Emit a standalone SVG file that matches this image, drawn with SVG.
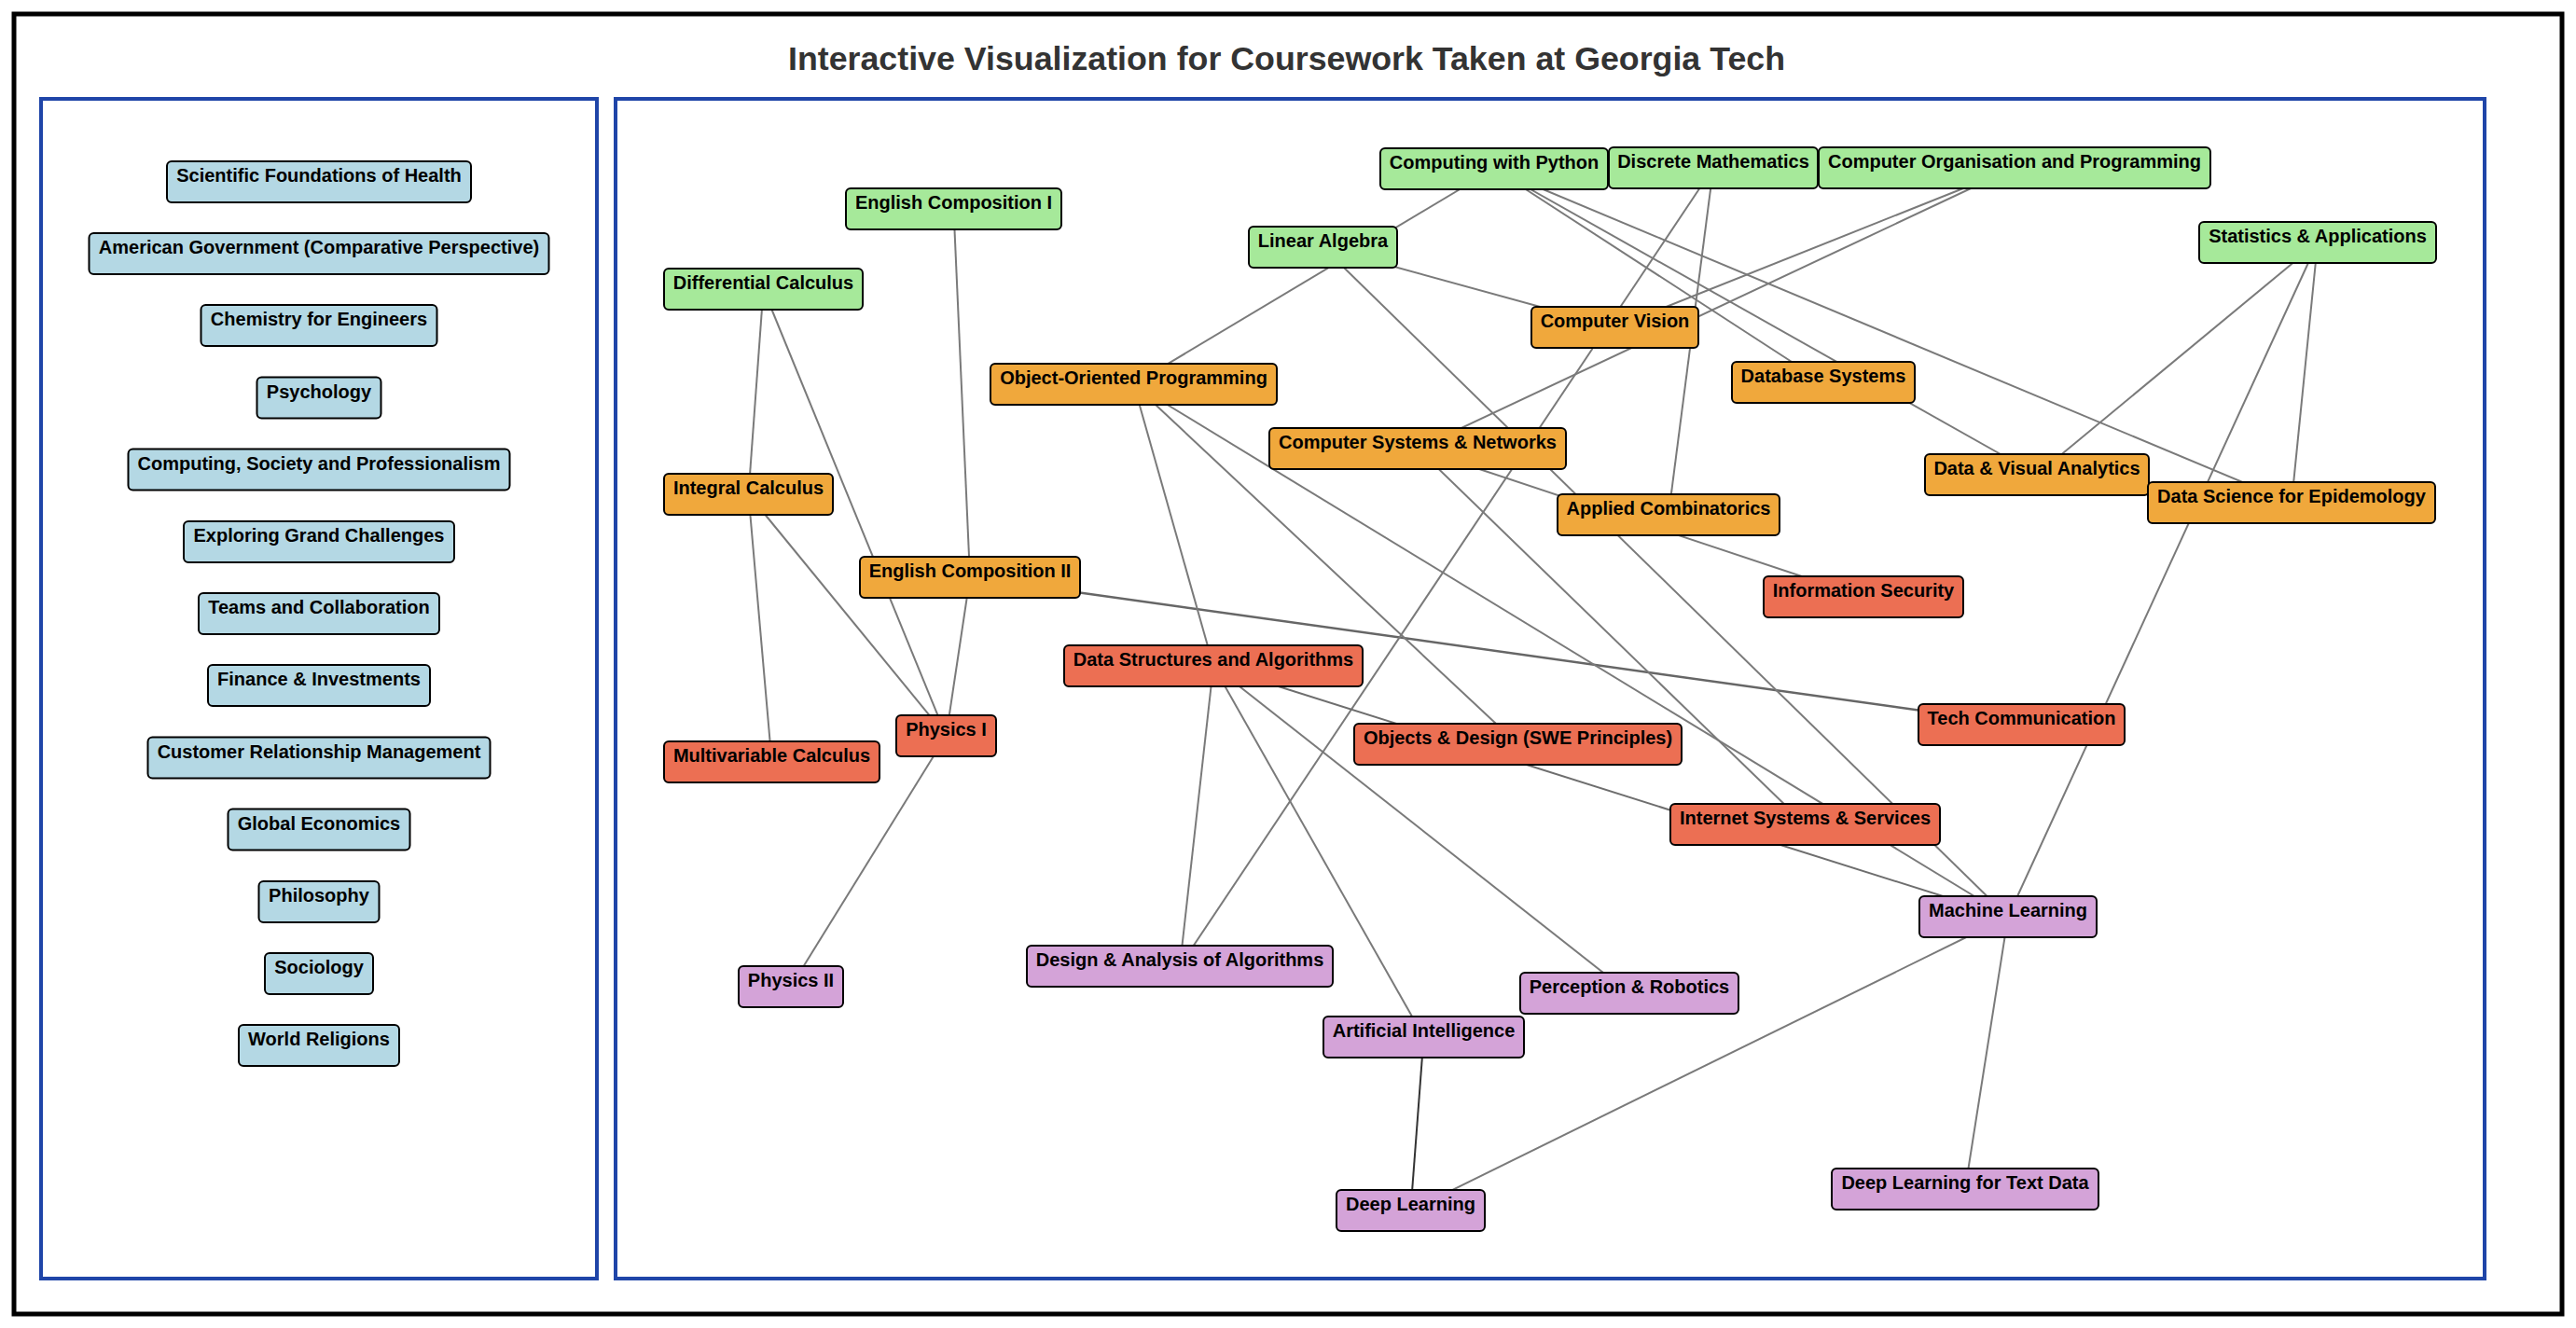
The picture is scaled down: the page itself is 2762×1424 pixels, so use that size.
<svg xmlns="http://www.w3.org/2000/svg" width="2762" height="1424" viewBox="0 0 2762 1424">
<style>
.n rect{stroke:#000;stroke-width:2;rx:5;ry:5}
.n text{font-family:"Liberation Sans",Arial,sans-serif;font-weight:bold;font-size:20px;fill:#000;text-anchor:middle}
.b rect{fill:#b4d8e4}
.g rect{fill:#a6e99a}
.o rect{fill:#f0a83c}
.r rect{fill:#ec6f53}
.p rect{fill:#d4a3d8}
#edges line{stroke:#7a7a7a;stroke-width:2}
.panel{fill:none;stroke:#1f45a8;stroke-width:4}
</style>
<rect width="2762" height="1424" fill="#fff"/>
<rect x="15" y="15" width="2732" height="1394" fill="none" stroke="#000" stroke-width="5"/>
<text x="1379.5" y="75" font-family="Liberation Sans,Arial,sans-serif" font-weight="bold" font-size="35" fill="#333" text-anchor="middle" textLength="1069" lengthAdjust="spacingAndGlyphs">Interactive Visualization for Coursework Taken at Georgia Tech</text>
<rect class="panel" x="44" y="106" width="596" height="1265"/>
<rect class="panel" x="660" y="106" width="2004" height="1265"/>

<g id="left-nodes">
<g id="n-sfh" class="n b"><rect x="179" y="173" width="326" height="44"/><text x="342" y="195">Scientific Foundations of Health</text></g>
<g id="n-ag" class="n b"><rect x="95.5" y="250" width="493" height="44"/><text x="342" y="272">American Government (Comparative Perspective)</text></g>
<g id="n-chem" class="n b"><rect x="215.5" y="327" width="253" height="44"/><text x="342" y="349">Chemistry for Engineers</text></g>
<g id="n-psy" class="n b"><rect x="275.5" y="404.5" width="133" height="44"/><text x="342" y="426.5">Psychology</text></g>
<g id="n-csp" class="n b"><rect x="137.5" y="481.5" width="409" height="44"/><text x="342" y="503.5">Computing, Society and Professionalism</text></g>
<g id="n-egc" class="n b"><rect x="197" y="559" width="290" height="44"/><text x="342" y="581">Exploring Grand Challenges</text></g>
<g id="n-tc2" class="n b"><rect x="213" y="636" width="258" height="44"/><text x="342" y="658">Teams and Collaboration</text></g>
<g id="n-fi" class="n b"><rect x="223" y="713" width="238" height="44"/><text x="342" y="735">Finance &amp; Investments</text></g>
<g id="n-crm" class="n b"><rect x="158.5" y="790.5" width="367" height="44"/><text x="342" y="812.5">Customer Relationship Management</text></g>
<g id="n-ge" class="n b"><rect x="244.5" y="867.5" width="195" height="44"/><text x="342" y="889.5">Global Economics</text></g>
<g id="n-phil" class="n b"><rect x="277.5" y="945" width="129" height="44"/><text x="342" y="967">Philosophy</text></g>
<g id="n-soc" class="n b"><rect x="284" y="1022" width="116" height="44"/><text x="342" y="1044">Sociology</text></g>
<g id="n-wr" class="n b"><rect x="256" y="1099" width="172" height="44"/><text x="342" y="1121">World Religions</text></g>
</g>

<g id="edges">
<line x1="818.5" y1="310" x2="802.5" y2="530"/>
<line x1="818.5" y1="310" x2="1014.5" y2="789"/>
<line x1="1022.5" y1="224" x2="1040" y2="619"/>
<line x1="802.5" y1="530" x2="827.5" y2="817"/>
<line x1="802.5" y1="530" x2="1014.5" y2="789"/>
<line x1="1040" y1="619" x2="1014.5" y2="789"/>
<line x1="1014.5" y1="789" x2="848" y2="1058"/>
<line x1="1040" y1="619" x2="2167.5" y2="777" style="stroke:#666;stroke-width:2.5"/>
<line x1="1602" y1="181" x2="1215.5" y2="412"/>
<line x1="1602" y1="181" x2="1955" y2="410"/>
<line x1="1602" y1="181" x2="2184" y2="509"/>
<line x1="1602" y1="181" x2="2457" y2="539"/>
<line x1="1418.5" y1="265" x2="1731.5" y2="351"/>
<line x1="1418.5" y1="265" x2="2153" y2="983"/>
<line x1="1837" y1="180" x2="1265" y2="1036"/>
<line x1="1837" y1="180" x2="1789" y2="552"/>
<line x1="2160" y1="180" x2="1731.5" y2="351"/>
<line x1="2160" y1="180" x2="1520" y2="481"/>
<line x1="1215.5" y1="412" x2="1301" y2="714"/>
<line x1="1215.5" y1="412" x2="1627.5" y2="798"/>
<line x1="1215.5" y1="412" x2="2153" y2="983"/>
<line x1="1520" y1="481" x2="1935.5" y2="884"/>
<line x1="1520" y1="481" x2="1998" y2="640"/>
<line x1="2485" y1="260" x2="2184" y2="509"/>
<line x1="2485" y1="260" x2="2457" y2="539"/>
<line x1="2485" y1="260" x2="2153" y2="983"/>
<line x1="1301" y1="714" x2="1265" y2="1036"/>
<line x1="1301" y1="714" x2="1526.5" y2="1112"/>
<line x1="1301" y1="714" x2="1747" y2="1065"/>
<line x1="1301" y1="714" x2="2153" y2="983" style="stroke:#6e6e6e"/>
<line x1="2153" y1="983" x2="1512.5" y2="1298"/>
<line x1="2153" y1="983" x2="2107" y2="1275"/>
<line x1="1526.5" y1="1112" x2="1512.5" y2="1298" style="stroke:#333"/>
</g>

<g id="right-nodes">
<g id="n-eci" class="n g"><rect x="907" y="202" width="231" height="44"/><text x="1022.5" y="224">English Composition I</text></g>
<g id="n-la" class="n g"><rect x="1339" y="243" width="159" height="44"/><text x="1418.5" y="265">Linear Algebra</text></g>
<g id="n-dc" class="n g"><rect x="712" y="288" width="213" height="44"/><text x="818.5" y="310">Differential Calculus</text></g>
<g id="n-cwp" class="n g"><rect x="1480" y="159" width="244" height="44"/><text x="1602" y="181">Computing with Python</text></g>
<g id="n-dm" class="n g"><rect x="1725" y="158" width="224" height="44"/><text x="1837" y="180">Discrete Mathematics</text></g>
<g id="n-cop" class="n g"><rect x="1950" y="158" width="420" height="44"/><text x="2160" y="180">Computer Organisation and Programming</text></g>
<g id="n-sa" class="n g"><rect x="2358" y="238" width="254" height="44"/><text x="2485" y="260">Statistics &amp; Applications</text></g>
<g id="n-oop" class="n o"><rect x="1062" y="390" width="307" height="44"/><text x="1215.5" y="412">Object-Oriented Programming</text></g>
<g id="n-csn" class="n o"><rect x="1361" y="459" width="318" height="44"/><text x="1520" y="481">Computer Systems &amp; Networks</text></g>
<g id="n-ic" class="n o"><rect x="712" y="508" width="181" height="44"/><text x="802.5" y="530">Integral Calculus</text></g>
<g id="n-ecii" class="n o"><rect x="922" y="597" width="236" height="44"/><text x="1040" y="619">English Composition II</text></g>
<g id="n-cv" class="n o"><rect x="1642" y="329" width="179" height="44"/><text x="1731.5" y="351">Computer Vision</text></g>
<g id="n-dbs" class="n o"><rect x="1857" y="388" width="196" height="44"/><text x="1955" y="410">Database Systems</text></g>
<g id="n-dva" class="n o"><rect x="2064" y="487" width="240" height="44"/><text x="2184" y="509">Data &amp; Visual Analytics</text></g>
<g id="n-dse" class="n o"><rect x="2303" y="517" width="308" height="44"/><text x="2457" y="539">Data Science for Epidemology</text></g>
<g id="n-ac" class="n o"><rect x="1670" y="530" width="238" height="44"/><text x="1789" y="552">Applied Combinatorics</text></g>
<g id="n-is" class="n r"><rect x="1891" y="618" width="214" height="44"/><text x="1998" y="640">Information Security</text></g>
<g id="n-dsa" class="n r"><rect x="1141" y="692" width="320" height="44"/><text x="1301" y="714">Data Structures and Algorithms</text></g>
<g id="n-p1" class="n r"><rect x="961" y="767" width="107" height="44"/><text x="1014.5" y="789">Physics I</text></g>
<g id="n-mc" class="n r"><rect x="712" y="795" width="231" height="44"/><text x="827.5" y="817">Multivariable Calculus</text></g>
<g id="n-tc" class="n r"><rect x="2057" y="755" width="221" height="44"/><text x="2167.5" y="777">Tech Communication</text></g>
<g id="n-od" class="n r"><rect x="1452" y="776" width="351" height="44"/><text x="1627.5" y="798">Objects &amp; Design (SWE Principles)</text></g>
<g id="n-iss" class="n r"><rect x="1791" y="862" width="289" height="44"/><text x="1935.5" y="884">Internet Systems &amp; Services</text></g>
<g id="n-p2" class="n p"><rect x="792" y="1036" width="112" height="44"/><text x="848" y="1058">Physics II</text></g>
<g id="n-daa" class="n p"><rect x="1101" y="1014" width="328" height="44"/><text x="1265" y="1036">Design &amp; Analysis of Algorithms</text></g>
<g id="n-ml" class="n p"><rect x="2058" y="961" width="190" height="44"/><text x="2153" y="983">Machine Learning</text></g>
<g id="n-pr" class="n p"><rect x="1630" y="1043" width="234" height="44"/><text x="1747" y="1065">Perception &amp; Robotics</text></g>
<g id="n-ai" class="n p"><rect x="1419" y="1090" width="215" height="44"/><text x="1526.5" y="1112">Artificial Intelligence</text></g>
<g id="n-dl" class="n p"><rect x="1433" y="1276" width="159" height="44"/><text x="1512.5" y="1298">Deep Learning</text></g>
<g id="n-dlt" class="n p"><rect x="1964" y="1253" width="286" height="44"/><text x="2107" y="1275">Deep Learning for Text Data</text></g>
</g>
</svg>
